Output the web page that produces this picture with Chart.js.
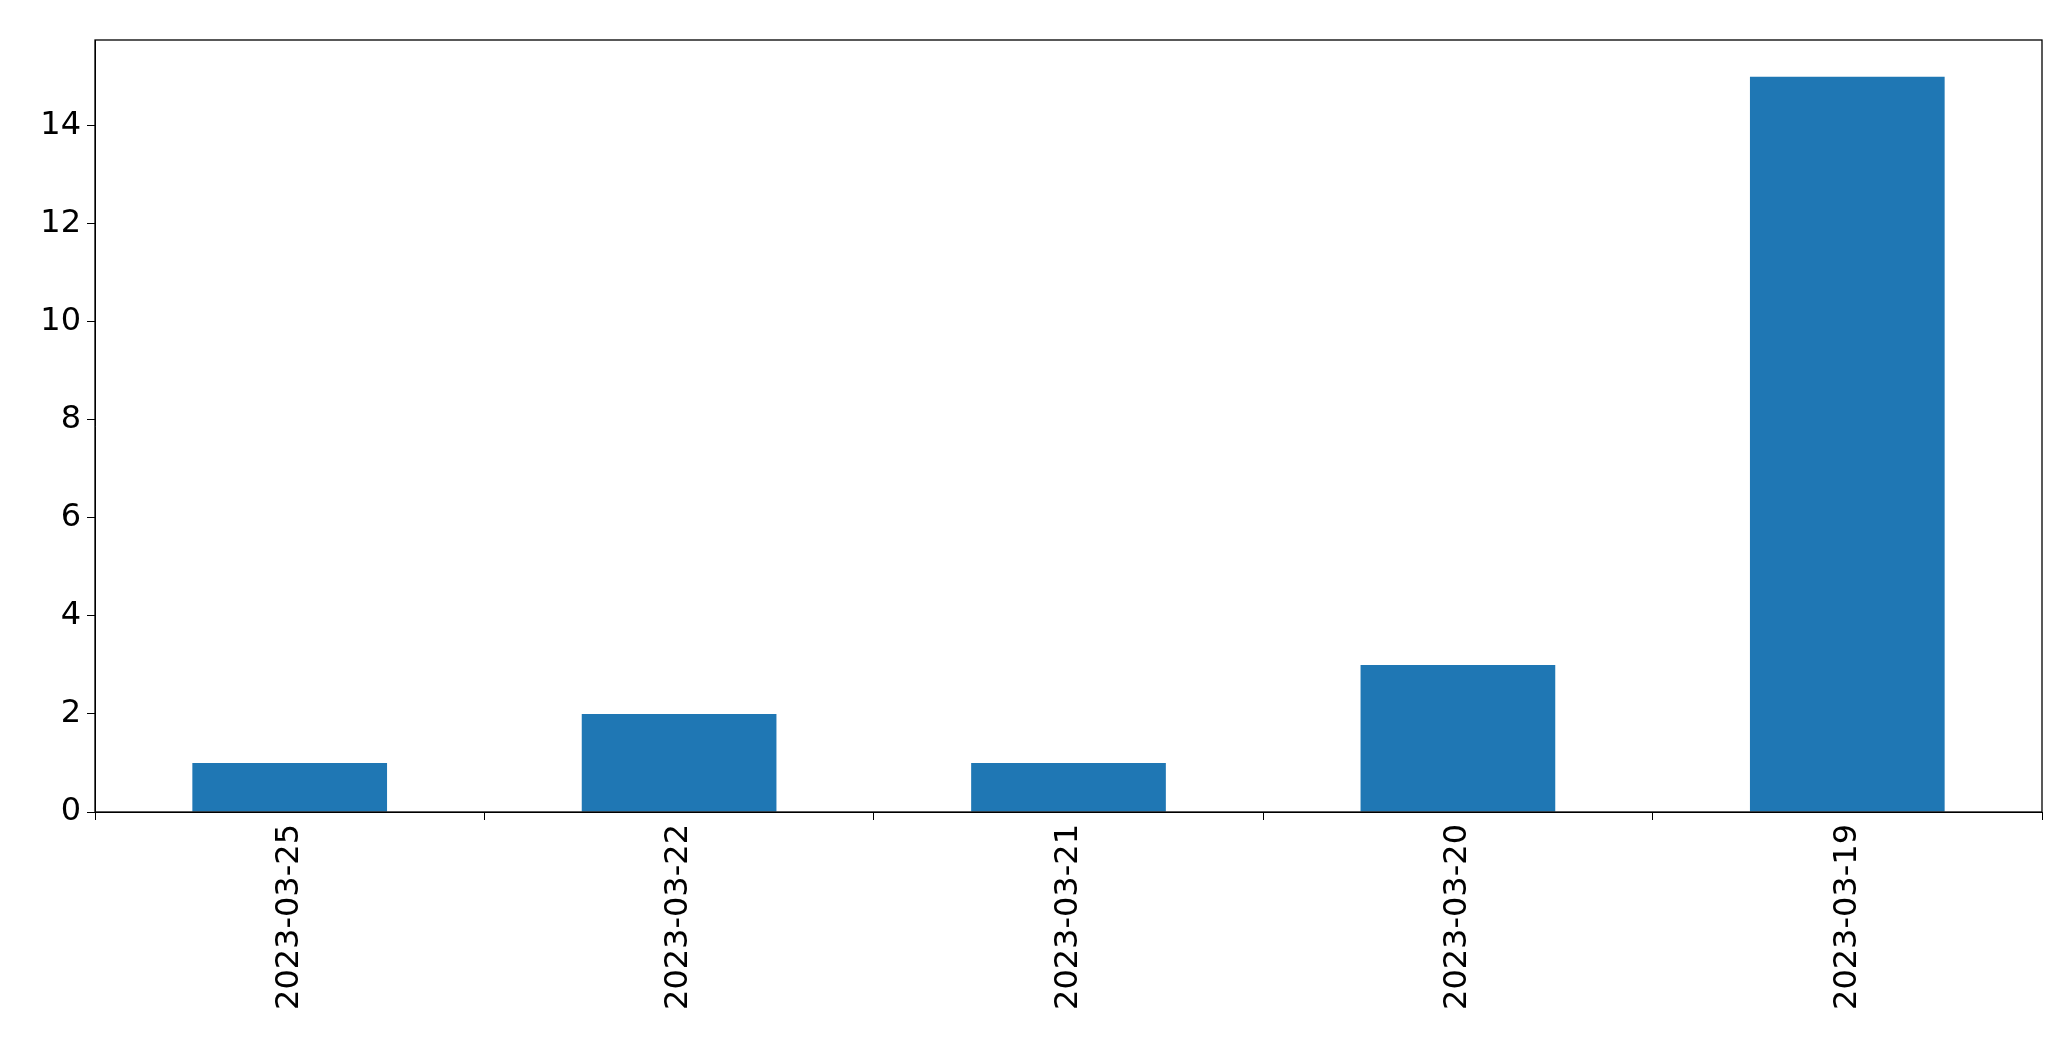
<!DOCTYPE html>
<html><head><meta charset="utf-8">
<script src="https://cdn.jsdelivr.net/npm/chart.js@4"></script>
<style>html,body{margin:0;padding:0;background:#fff}</style>
</head><body>
<canvas id="c" width="2071" height="1061"></canvas>
<script>
const categories = ["2023-03-25","2023-03-22","2023-03-21","2023-03-20","2023-03-19"];
const counts = [1,2,1,3,15];
const yTicks = [0,2,4,6,8,10,12,14];
const frame = {id:'frame',afterDraw(c){const a=c.chartArea,x=c.ctx;x.save();x.strokeStyle='#000';x.lineWidth=1.3;x.strokeRect(a.left,a.top,a.right-a.left,a.bottom-a.top);x.restore();}};
new Chart(document.getElementById('c'),{
 type:'bar',
 data:{labels:categories,datasets:[{data:counts,backgroundColor:'#1f77b4',barPercentage:0.5,categoryPercentage:1}]},
 options:{responsive:false,animation:false,
  layout:{padding:{left:0,right:29,top:40,bottom:0}},
  plugins:{legend:{display:false},tooltip:{enabled:false}},
  scales:{
   x:{grid:{drawOnChartArea:false,tickLength:8,color:'#000'},border:{color:'#000'},
      ticks:{color:'#000',font:{family:'DejaVu Sans',size:32},minRotation:90,maxRotation:90,padding:4},
      afterFit:s=>{s.height=249;}},
   y:{min:0,max:15.75,grid:{drawOnChartArea:false,tickLength:8,color:'#000'},border:{color:'#000'},
      afterBuildTicks:s=>{s.ticks=yTicks.map(v=>({value:v}));},
      ticks:{color:'#000',font:{family:'DejaVu Sans',size:32},padding:6},
      afterFit:s=>{s.width=95;}}
  }},
 plugins:[frame]
});
</script></body></html>
